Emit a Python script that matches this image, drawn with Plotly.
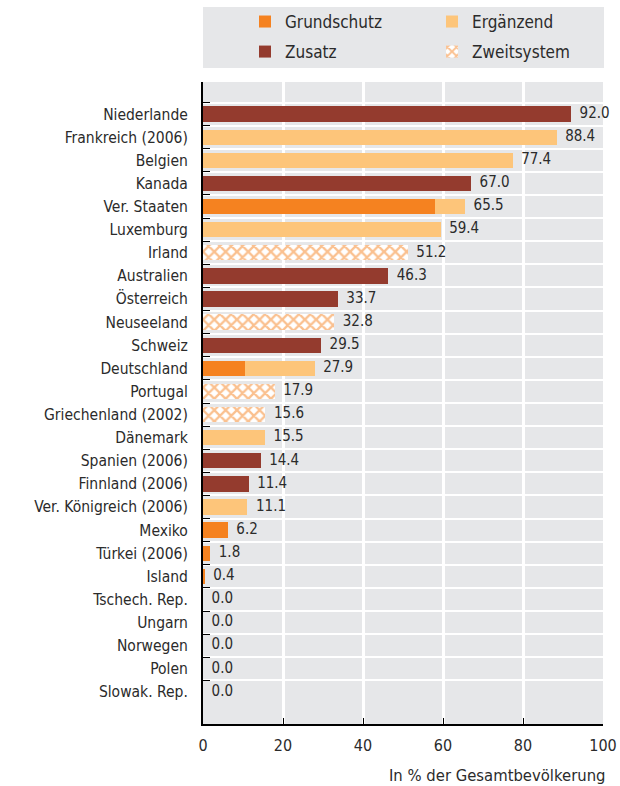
import plotly.graph_objects as go

countries = ["Niederlande", "Frankreich (2006)", "Belgien", "Kanada", "Ver. Staaten",
             "Luxemburg", "Irland", "Australien", "Österreich", "Neuseeland", "Schweiz",
             "Deutschland", "Portugal", "Griechenland (2002)", "Dänemark", "Spanien (2006)",
             "Finnland (2006)", "Ver. Königreich (2006)", "Mexiko", "Türkei (2006)", "Island",
             "Tschech. Rep.", "Ungarn", "Norwegen", "Polen", "Slowak. Rep."]
grundschutz = [0, 0, 0, 0, 58.0, 0, 0, 0, 0, 0, 0, 10.5, 0, 0, 0, 0, 0, 0, 6.2, 1.8, 0.4, 0, 0, 0, 0, 0]
ergaenzend = [0, 88.4, 77.4, 0, 7.5, 59.4, 0, 0, 0, 0, 0, 17.4, 0, 0, 15.5, 0, 0, 11.1, 0, 0, 0, 0, 0, 0, 0, 0]
zusatz = [92.0, 0, 0, 67.0, 0, 0, 0, 46.3, 33.7, 0, 29.5, 0, 0, 0, 0, 14.4, 11.4, 0, 0, 0, 0, 0, 0, 0, 0, 0]
zweitsystem = [0, 0, 0, 0, 0, 0, 51.2, 0, 0, 32.8, 0, 0, 17.9, 15.6, 0, 0, 0, 0, 0, 0, 0, 0, 0, 0, 0, 0]
x_ticks = [0, 20, 40, 60, 80, 100]

totals = [g + e + z + w for g, e, z, w in zip(grundschutz, ergaenzend, zusatz, zweitsystem)]

FONT = "Liberation Sans Narrow, DejaVu Sans Condensed, Roboto, sans-serif"
TXT = "#2b2b2b"

fig = go.Figure()
fig.add_trace(go.Bar(name="Grundschutz", y=countries, x=grundschutz, orientation="h",
                     marker=dict(color="#f58220", line=dict(width=0)), legend="legend"))
fig.add_trace(go.Bar(name="Ergänzend", y=countries, x=ergaenzend, orientation="h",
                     marker=dict(color="#fdc57a", line=dict(width=0)), legend="legend2"))
fig.add_trace(go.Bar(name="Zusatz", y=countries, x=zusatz, orientation="h",
                     marker=dict(color="#943b2e", line=dict(width=0)), legend="legend3"))
fig.add_trace(go.Bar(name="Zweitsystem", y=countries, x=zweitsystem, orientation="h",
                     marker=dict(color="white", line=dict(width=0),
                                 pattern=dict(shape="x", fgcolor="#f58220", bgcolor="white",
                                              size=8, solidity=0.5)),
                     legend="legend4"))
fig.add_trace(go.Scatter(x=totals, y=countries, mode="text",
                         text=["  " + f"{t:.1f}" for t in totals],
                         textposition="middle right",
                         textfont=dict(family=FONT, size=15, color=TXT),
                         showlegend=False, cliponaxis=False, hoverinfo="skip"))

leg = dict(orientation="h", xanchor="left", yanchor="middle",
           bgcolor="rgba(0,0,0,0)", font=dict(size=17, color=TXT))
fig.update_layout(
    width=620, height=786,
    margin=dict(l=203, r=17, t=82, b=62, autoexpand=False),
    barmode="stack", bargap=0.34,
    plot_bgcolor="#e6e7e9", paper_bgcolor="white",
    font=dict(family=FONT, size=16, color=TXT),
    legend=dict(leg, x=0.105, y=1.0935),
    legend2=dict(leg, x=0.5725, y=1.0935),
    legend3=dict(leg, x=0.105, y=1.0467),
    legend4=dict(leg, x=0.5725, y=1.0467),
    shapes=[dict(type="rect", xref="paper", yref="paper", x0=0, x1=1.0025,
                 y0=1.0218, y1=1.1168, fillcolor="#e6e7e9", line=dict(width=0), layer="below")],
    annotations=[dict(text="In % der Gesamtbevölkerung", xref="paper", yref="paper",
                      x=1.01, y=-0.08, xanchor="right", yanchor="middle", showarrow=False,
                      font=dict(family=FONT, size=16.5, color=TXT))],
)
fig.update_xaxes(range=[0, 100], tickvals=x_ticks, showgrid=True, gridcolor="white", gridwidth=2.5,
                 zeroline=False, showline=True, linecolor="black", linewidth=2,
                 ticks="inside", ticklen=6, tickcolor="black", tickwidth=1,
                 ticklabelstandoff=6, tickfont=dict(size=16, color=TXT))
fig.update_yaxes(categoryorder="array", categoryarray=countries, autorange="reversed",
                 tickson="boundaries", showgrid=True, gridcolor="white", gridwidth=2,
                 showline=True, linecolor="black", linewidth=2,
                 ticks="inside", ticklen=7, tickcolor="black", tickwidth=1,
                 ticklabelstandoff=10, tickfont=dict(size=15.5, color=TXT))

fig.write_html("out.html")
